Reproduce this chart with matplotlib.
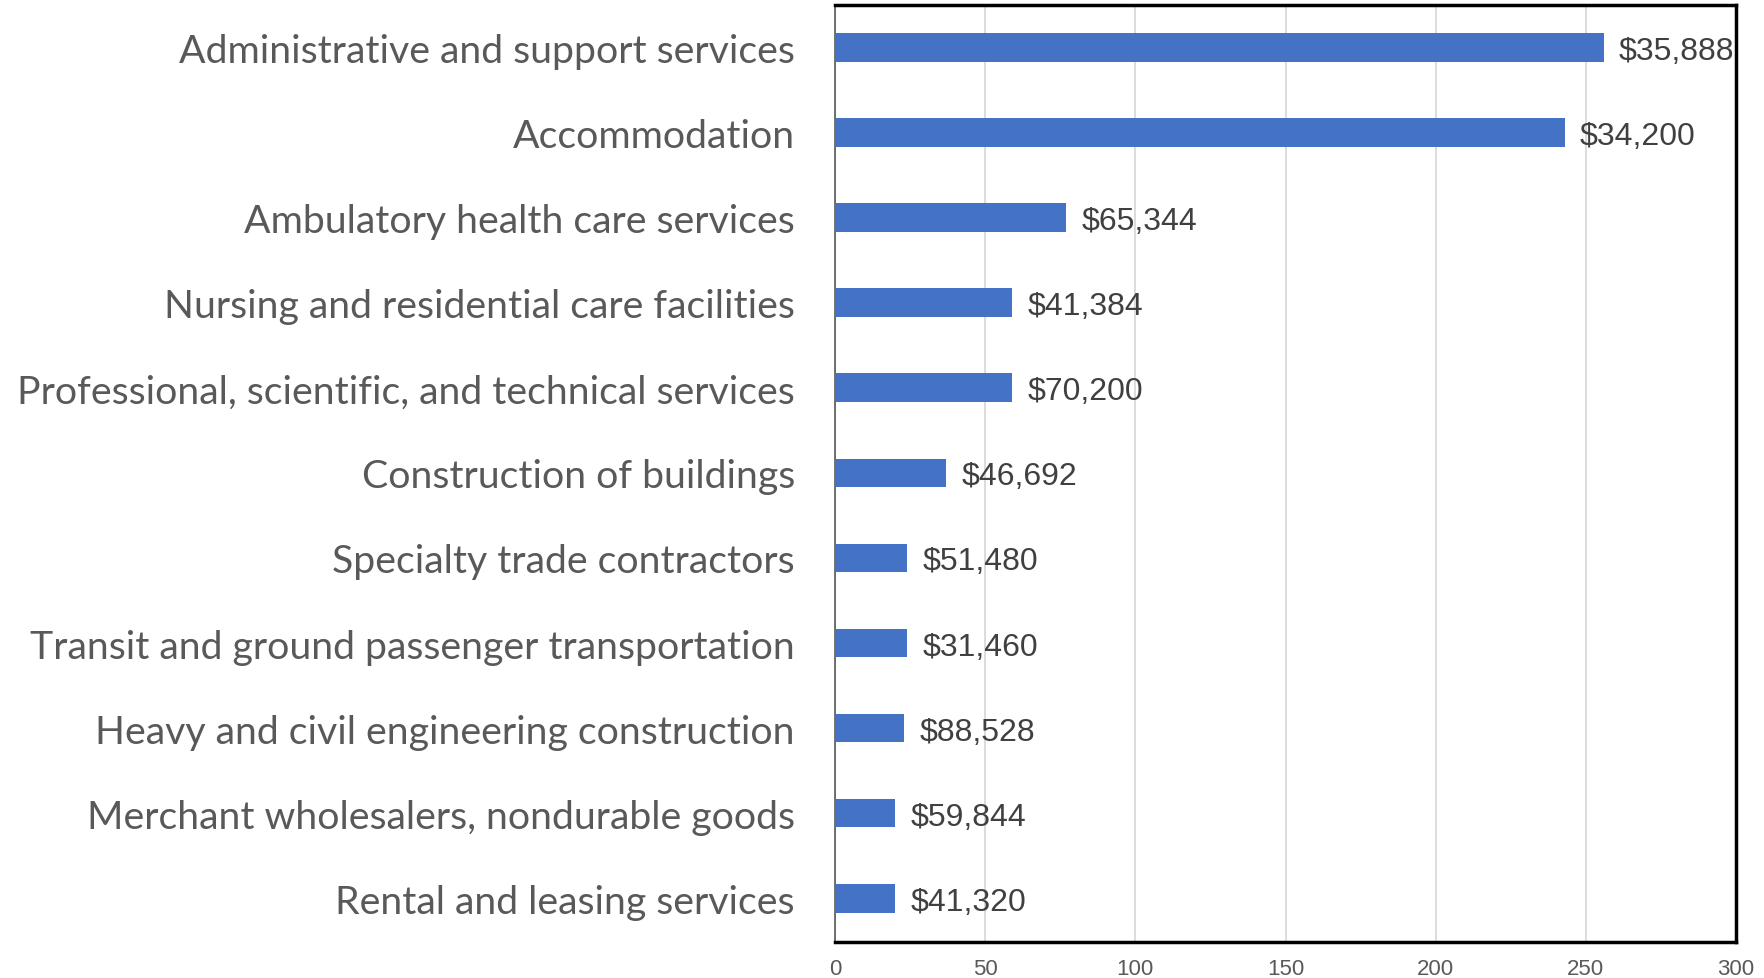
import matplotlib.pyplot as plt
import matplotlib

matplotlib.rcParams['font.family'] = ['Lato', 'DejaVu Sans']

# industries, top to bottom
industries = [
    "Administrative and support services",
    "Accommodation",
    "Ambulatory health care services",
    "Nursing and residential care facilities",
    "Professional, scientific, and technical services",
    "Construction of buildings",
    "Specialty trade contractors",
    "Transit and ground passenger transportation",
    "Heavy and civil engineering construction",
    "Merchant wholesalers, nondurable goods",
    "Rental and leasing services",
]
counts = [256, 243, 77, 59, 59, 37, 24, 24, 23, 20, 20]
wage_labels = ["$35,888", "$34,200", "$65,344", "$41,384", "$70,200", "$46,692",
               "$51,480", "$31,460", "$88,528", "$59,844", "$41,320"]
x_ticks = [0, 50, 100, 150, 200, 250, 300]

fig = plt.figure(figsize=(17.64, 9.79), dpi=100)
ax = fig.add_axes([0.4734, 0.0365, 0.5107, 0.957])

ypos = list(range(len(industries)))
ax.barh(ypos, counts, height=0.34, color="#4472C4", zorder=3)

for y, v, lab in zip(ypos, counts, wage_labels):
    ax.annotate(lab, xy=(v, y), xytext=(11, 0), textcoords="offset points",
                va="center_baseline", ha="left", fontsize=23, color="#404040",
                family=["Liberation Sans", "DejaVu Sans"])

ax.set_xlim(0, 300)
ax.set_ylim(len(industries) - 0.48, -0.5)
ax.set_yticks(ypos)
ax.set_yticklabels(industries, fontsize=28.3, color="#595959")
ax.set_xticks(x_ticks)
ax.set_xticklabels([str(t) for t in x_ticks], fontsize=16, color="#595959",
                   family=["Liberation Sans", "DejaVu Sans"])
ax.tick_params(axis="y", length=0, pad=29)
ax.tick_params(axis="x", length=0, pad=11)

ax.grid(axis="x", color="#D9D9D9", linewidth=1.3, zorder=0)
ax.set_axisbelow(True)

for side in ["top", "right", "bottom"]:
    ax.spines[side].set_color("black")
    ax.spines[side].set_linewidth(2.5)
ax.spines["left"].set_color("#595959")
ax.spines["left"].set_linewidth(1.2)

fig.savefig("out.png", dpi=100)
